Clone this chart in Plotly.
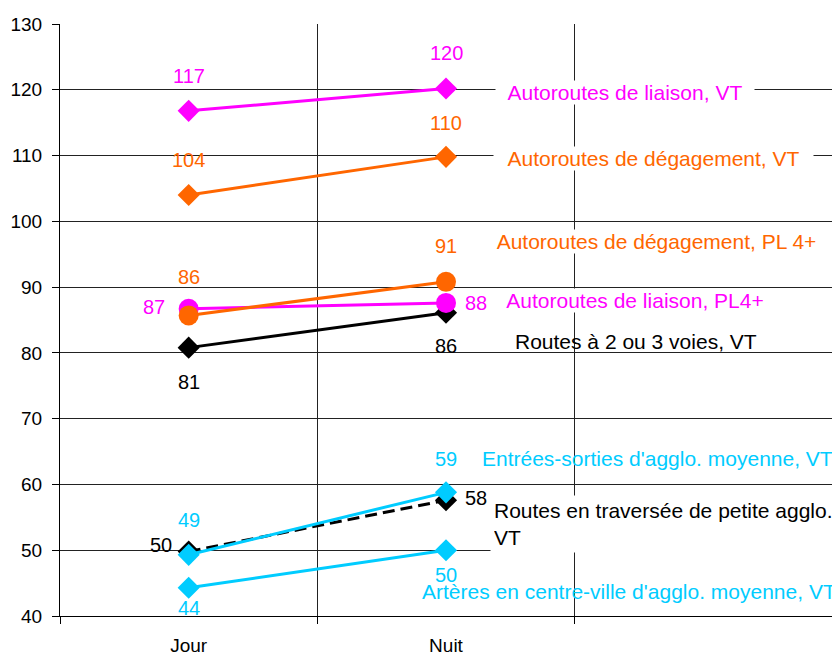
import plotly.graph_objects as go

# categories and values
categories = ["Jour", "Nuit"]
axis_categories = ["Jour", "Nuit", " "]

liaison_vt = [116.8, 120.2]
degagement_vt = [104.0, 109.8]
routes_2_3_vt = [80.8, 86.1]
liaison_pl = [86.7, 87.6]
degagement_pl = [85.7, 90.8]
traversee_vt = [49.8, 57.6]
entrees_vt = [49.3, 58.8]
arteres_vt = [44.3, 50.0]

MAGENTA = "#FF00FF"
ORANGE = "#FF6600"
CYAN = "#00CCFF"
BLACK = "#000000"
FONT = "Liberation Sans, Arial, sans-serif"

# name, values, colour, marker, dash, label offsets (dx, dy) per point
series = [
    ("Autoroutes de liaison, VT", liaison_vt, MAGENTA, "diamond", "solid",
     [(0, 35), (0, 35)]),
    ("Autoroutes de dégagement, VT", degagement_vt, ORANGE, "diamond", "solid",
     [(0, 35), (0, 34)]),
    ("Routes à 2 ou 3 voies, VT", routes_2_3_vt, BLACK, "diamond", "solid",
     [(0, -34), (0, -33)]),
    ("Autoroutes de liaison, PL4+", liaison_pl, MAGENTA, "circle", "solid",
     [(-35, 2), (30, 0)]),
    ("Autoroutes de dégagement, PL 4+", degagement_pl, ORANGE, "circle", "solid",
     [(0, 38), (0, 36)]),
    ("Routes en traversée de petite agglo., VT", traversee_vt, BLACK, "diamond",
     "dash", [(-28, 7), (30, 2)]),
    ("Entrées-sorties d'agglo. moyenne, VT", entrees_vt, CYAN, "diamond", "solid",
     [(0, 35), (0, 33)]),
    ("Artères en centre-ville d'agglo. moyenne, VT", arteres_vt, CYAN, "diamond",
     "solid", [(0, -20), (0, -25)]),
]

fig = go.Figure()
annotations = []
for name, vals, col, sym, dash, offs in series:
    fig.add_trace(go.Scatter(
        x=categories, y=vals, mode="lines+markers", name=name,
        line=dict(color=col, width=3, dash="12px,6px" if dash == "dash" else "solid"),
        marker=dict(symbol=sym, size=20 if sym == "circle" else 17, color=col,
                    line=dict(width=0)),
        showlegend=False,
    ))
    for cat, v, (dx, dy) in zip(categories, vals, offs):
        annotations.append(dict(
            x=cat, y=v, xref="x", yref="y", text=f"{v:.0f}", showarrow=False,
            xshift=dx, yshift=dy, font=dict(color=col, size=20, family=FONT),
        ))

# series names placed at the right (paper x centre, value y, box width, white box)
name_labels = [
    ("Autoroutes de liaison, VT", MAGENTA, 0.7319, 119.65, 258, True),
    ("Autoroutes de dégagement, VT", ORANGE, 0.7690, 109.6, 319, True),
    ("Autoroutes de dégagement, PL 4+", ORANGE, 0.7727, 96.9, 335, True),
    ("Autoroutes de liaison, PL4+", MAGENTA, 0.7448, 87.9, 280, True),
    ("Routes à 2 ou 3 voies, VT", BLACK, 0.7461, 81.8, None, False),
    ("Entrées-sorties d'agglo. moyenne, VT", CYAN, 0.7746, 64.0, None, False),
    ("Artères en centre-ville d'agglo. moyenne, VT", CYAN, 0.7364, 43.65, None, False),
]
for text, col, px_, vy, w, box in name_labels:
    a = dict(x=px_, y=vy, xref="paper", yref="y", text=text, showarrow=False,
             xanchor="center", yanchor="middle", align="center",
             font=dict(color=col, size=21, family=FONT), borderpad=0)
    if w:
        a["width"] = w
    if box:
        a["bgcolor"] = "white"
    annotations.append(a)

annotations.append(dict(
    x=0.5570, y=54.0, xref="paper", yref="y",
    text="Routes en traversée de petite agglo.,<br>VT", showarrow=False,
    xanchor="left", yanchor="middle", align="left", width=345,
    font=dict(color=BLACK, size=21, family=FONT), bgcolor="white", borderpad=3,
))

fig.update_layout(
    width=832, height=654,
    margin=dict(l=60, r=0, t=24, b=38),
    plot_bgcolor="white", paper_bgcolor="white",
    font=dict(family=FONT, size=19, color="black"),
    annotations=annotations,
    xaxis=dict(
        type="category", categoryorder="array", categoryarray=axis_categories,
        range=[-0.5, 2.5], tickson="boundaries", ticks="outside", ticklen=7,
        tickcolor="black", showgrid=True, gridcolor="#222222", gridwidth=1,
        showline=True, linecolor="black", linewidth=1, zeroline=False,
        ticklabelstandoff=12, tickfont=dict(size=19), automargin=False,
    ),
    yaxis=dict(
        range=[40, 130], dtick=10, ticks="outside", ticklen=7, tickcolor="black",
        showgrid=True, gridcolor="#222222", gridwidth=1, showline=True,
        linecolor="black", linewidth=1, zeroline=False, tickfont=dict(size=19),
        ticklabelstandoff=6, automargin=False,
    ),
)

# drop the browser's default body margin so the figure fills the window
fig.write_html("out.html", config={"displayModeBar": False},
               post_script="document.body.style.margin='0';"
                           "document.body.style.overflow='hidden';")
